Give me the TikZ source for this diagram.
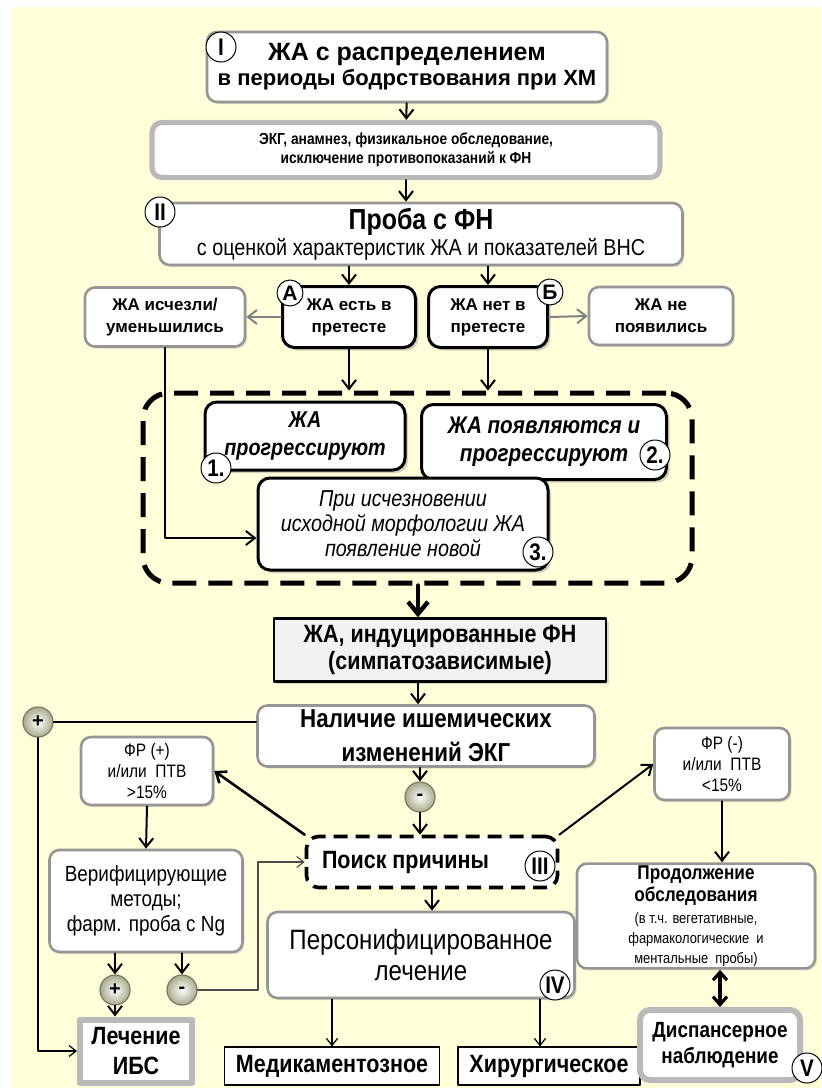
\documentclass[tikz,border=0pt]{standalone}
\usepackage{fontspec}
\setmainfont{Liberation Sans}
\newfontfamily\narrowfont[FakeStretch=0.86]{Liberation Sans}
\usepackage{tikz}
\usetikzlibrary{positioning, arrows.meta, shadows}

\definecolor{paper}{RGB}{255,255,217}
\definecolor{softedge}{RGB}{150,150,150}
\definecolor{signedge}{RGB}{120,120,105}
\definecolor{signfill}{RGB}{170,170,140}

\newcommand{\smallnote}{\mdseries\fontsize{7.5}{9.5}\selectfont}

\tikzset{
  softbox/.style={draw=softedge, line width=1.3pt, rounded corners=5pt, fill=white, align=center, inner sep=1pt,
    drop shadow={opacity=0.25, shadow xshift=1pt, shadow yshift=-1pt}},
  darkbox/.style={draw=black, line width=1.5pt, rounded corners=6pt, fill=white, align=center, inner sep=1pt,
    drop shadow={opacity=0.35, shadow xshift=1.5pt, shadow yshift=-1.5pt}},
  plainbox/.style={draw=black, line width=0.6pt, fill=white, align=center, inner sep=1pt},
  tag/.style={circle, draw=black, line width=0.5pt, fill=white, inner sep=0pt, minimum size=15pt,
    font=\narrowfont\bfseries\fontsize{12}{12}\selectfont},
  sign/.style={circle, draw=signedge, line width=0.6pt, shading=radial, inner color=white, outer color=signfill,
    inner sep=0pt, minimum size=15pt, font=\bfseries\fontsize{10}{10}\selectfont},
  arr/.style={-{Straight Barb[length=4.5pt, width=7pt]}, line width=1pt},
  thinarr/.style={-{Straight Barb[length=3.5pt, width=5.5pt]}, line width=0.6pt},
}

\begin{document}
\begin{tikzpicture}[x=0.5pt, y=-0.5pt, line cap=round, line join=round]
  % page and background
  \useasboundingbox (0,0) rectangle (821,1088);
  \fill[paper] (11,7) rectangle (821,1088);
  \coordinate (axis) at (418,0);
  \coordinate (cut) at (540,0);

  % stage I
  \node[softbox, minimum width=200pt, minimum height=35pt, font=\bfseries\fontsize{11}{12.5}\selectfont]
    (holter) at (407,67) {{\fontsize{12.5}{13}\selectfont ЖА с распределением}\\в периоды бодрствования при ХМ};
  \node[tag] (tagI) at (221,47) {I};
  \node[softbox, draw=gray!55, line width=2.6pt, minimum width=254pt, minimum height=27.5pt,
    font=\narrowfont\bfseries\fontsize{8}{9.5}\selectfont]
    (exam) at (406,150) {ЭКГ, анамнез, физикальное обследование,\\исключение противопоказаний к ФН};

  % stage II
  \node[softbox, minimum width=261.5pt, minimum height=31pt, font=\narrowfont\fontsize{11.5}{12}\selectfont]
    (stress) at (421,234) {{\bfseries\fontsize{14.5}{15}\selectfont Проба с ФН}\\[1pt]с оценкой характеристик ЖА и показателей ВНС};
  \node[tag] (tagII) at (160,212) {II};

  % pretest branches
  \node[softbox, minimum width=80pt, minimum height=29.5pt, font=\bfseries\fontsize{8.5}{11}\selectfont]
    (gone) at (165,317) {ЖА исчезли/\\уменьшились};
  \node[darkbox, minimum width=66.5pt, minimum height=30.5pt, font=\bfseries\fontsize{8.5}{11}\selectfont]
    (preA) at (349,317) {ЖА есть в\\претесте};
  \node[darkbox, minimum width=59.5pt, minimum height=30.5pt, font=\bfseries\fontsize{8.5}{11}\selectfont]
    (preB) at (488,317) {ЖА нет в\\претесте};
  \node[softbox, minimum width=72pt, minimum height=29pt, font=\bfseries\fontsize{8.5}{11}\selectfont]
    (none) at (661,316) {ЖА не\\появились};
  \node[tag, minimum size=13pt, font=\bfseries\fontsize{10.5}{10.5}\selectfont] (tagA) at (290,293) {А};
  \node[tag, minimum size=13pt, font=\bfseries\fontsize{10.5}{10.5}\selectfont] (tagB) at (550,292) {Б};

  % induced group
  \node[draw, line width=2.5pt, dash pattern=on 12pt off 6pt, rounded corners=13pt, line cap=butt,
    minimum width=274.5pt, minimum height=95pt] (group) at (417.5,488) {};
  \node[darkbox, minimum width=100pt, minimum height=34pt, font=\narrowfont\bfseries\itshape\fontsize{11.5}{14}\selectfont]
    (prog) at (305,436) {ЖА\\прогрессируют};
  \node[darkbox, minimum width=122.5pt, minimum height=37.5pt, font=\narrowfont\bfseries\itshape\fontsize{12}{14}\selectfont]
    (appear) at (544,442) {ЖА появляются и\\прогрессируют};
  \node[darkbox, minimum width=145pt, minimum height=46pt, font=\narrowfont\itshape\fontsize{11.5}{12.5}\selectfont]
    (newform) at (403,524) {При исчезновении\\исходной морфологии ЖА\\появление новой};
  \node[tag] (tag1) at (216,468) {1.};
  \node[tag] (tag2) at (655,455) {2.};
  \node[tag] (tag3) at (538,552) {3.};

  % induced arrhythmias and ECG
  \node[draw, line width=1.3pt, fill=gray!10, minimum width=166pt, minimum height=30pt, align=center,
    drop shadow={opacity=0.3, shadow xshift=1.5pt, shadow yshift=-1.5pt},
    font=\narrowfont\bfseries\fontsize{12.5}{13.5}\selectfont]
    (induced) at (440,650) {ЖА, индуцированные ФН\\(симпатозависимые)};
  \node[softbox, minimum width=168.5pt, minimum height=30.5pt, font=\narrowfont\bfseries\fontsize{13}{17}\selectfont]
    (ischemia) at (426,736) {Наличие ишемических\\изменений ЭКГ};
  \node[sign] (plusA) at (38,722) {+};
  \node[sign] (minusA) at (420,797) {-};

  % risk factors
  \node[softbox, minimum width=66pt, minimum height=34pt, font=\narrowfont\fontsize{9}{10.5}\selectfont]
    (riskpos) at (147,771) {ФР (+)\\и/или~ ПТВ\\>15\%};
  \node[softbox, minimum width=67.5pt, minimum height=36pt, font=\narrowfont\fontsize{9}{10.5}\selectfont]
    (riskneg) at (722,764) {ФР (-)\\и/или~ ПТВ\\<15\%};

  % stage III
  \node[draw, fill=white, line width=1.8pt, dash pattern=on 7pt off 4pt, rounded corners=6pt, line cap=butt,
    minimum width=125.5pt, minimum height=25.5pt, font=\narrowfont\bfseries\fontsize{12.5}{14}\selectfont]
    (search) at (432,862) {\makebox[110pt][l]{Поиск причины}};
  \node[tag] (tagIII) at (540,866) {III};
  \node[softbox, minimum width=96.5pt, minimum height=51pt, font=\narrowfont\fontsize{11}{12.5}\selectfont]
    (verify) at (146,901) {Верифицирующие\\методы;\\фарм. проба с Ng};
  \node[sign] (plusB) at (115,990) {+};
  \node[sign] (minusB) at (182,990) {-};
  \node[softbox, draw=gray!55, line width=3pt, rounded corners=0pt, minimum width=56pt, minimum height=31.5pt,
    font=\narrowfont\bfseries\fontsize{12.5}{15}\selectfont]
    (ihd) at (136,1051) {Лечение\\ИБС};
  \coordinate (bypass) at (258,990);

  % stage IV
  \node[softbox, minimum width=153.5pt, minimum height=43pt, font=\narrowfont\fontsize{14}{15.5}\selectfont]
    (personal) at (421,955) {Персонифицированное\\лечение};
  \node[tag] (tagIV) at (555,985) {IV};
  \node[plainbox, minimum width=107.5pt, minimum height=19pt, font=\narrowfont\bfseries\fontsize{12.5}{13}\selectfont]
    (drug) at (332,1066) {Медикаментозное};
  \node[plainbox, minimum width=91pt, minimum height=19pt, font=\narrowfont\bfseries\fontsize{12.5}{13}\selectfont]
    (surgery) at (549,1066) {Хирургическое};

  % stage V
  \node[softbox, minimum width=119pt, minimum height=48.5pt, font=\narrowfont\bfseries\fontsize{10}{10}\selectfont]
    (further) at (696,916) {Продолжение\\[1pt]обследования\\[1pt]{\smallnote (в т.ч. вегетативные,}\\{\smallnote фармакологические~ и}\\{\smallnote ментальные~ пробы)}};
  \node[softbox, draw=gray!55, line width=3pt, minimum width=80pt, minimum height=35pt,
    font=\narrowfont\bfseries\fontsize{11}{13}\selectfont]
    (dispensary) at (720,1045) {Диспансерное\\наблюдение};
  \node[tag] (tagV) at (807,1068) {V};

  % connectors, top part
  \draw[arr] (holter) -- (exam);
  \draw[arr] (exam.south) -- (exam.south |- stress.north);
  \draw[arr] (preA.north |- stress.south) -- (preA.north);
  \draw[arr] (preB.north |- stress.south) -- (preB.north);
  \draw[arr, gray] (preA.west) -- (gone.east);
  \draw[arr, gray] (preB.east) -- (none.west);
  \draw[arr] (preA.south) -- (preA.south |- group.north);
  \draw[arr] (preB.south) -- (preB.south |- group.north);
  \draw[arr] (gone.south) |- ([yshift=-7pt]newform.west);
  \draw[-{Straight Barb[length=6pt, width=10pt]}, line width=2.2pt] (group.south -| axis) -- (induced.north -| axis);

  % connectors, lower part
  \draw[arr] (induced.south -| axis) -- (ischemia.north -| axis);
  \draw[line width=0.6pt] (ischemia.west |- plusA) -- (plusA.east);
  \draw[thinarr] (plusA.south) |- (ihd.west);
  \draw[arr] (ischemia.south -| minusA) -- (minusA.north);
  \draw[arr] (minusA.south) -- (minusA.south |- search.north);
  \draw[arr, line width=1.3pt] (search.north west) -- (riskpos.east);
  \draw[arr] (search.north east) -- (riskneg.west);
  \draw[arr] (riskpos.south) -- (verify.north);
  \draw[arr] (plusB.north |- verify.south) -- (plusB.north);
  \draw[arr] (minusB.north |- verify.south) -- (minusB.north);
  \draw[arr] (plusB.south) -- (ihd.north -| plusB);
  \draw[thinarr, draw=gray!60!black] (minusB.east) -- (bypass) |- (search.west);
  \draw[arr] (search.south) -- (search.south |- personal.north);
  \draw[thinarr] (drug.north |- personal.south) -- (drug.north);
  \draw[thinarr] (personal.south -| cut) -- (surgery.north -| cut);
  \draw[arr] (riskneg.south) -- (riskneg.south |- further.north);
  \draw[{Straight Barb[length=4pt, width=7pt]}-{Straight Barb[length=4pt, width=7pt]}, line width=1.6pt]
    (dispensary.north |- further.south) -- (dispensary.north);
\end{tikzpicture}
\end{document}
